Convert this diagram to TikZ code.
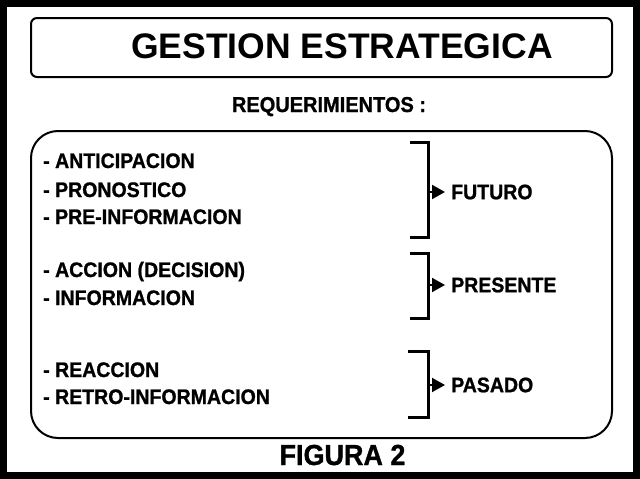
\documentclass[tikz,border=0pt]{standalone}
\usepackage{fontspec}
\setmainfont{Liberation Sans}
\newfontfamily\narrowfont{Liberation Sans}[FakeStretch=0.93,FakeBold=1]
\usetikzlibrary{positioning,arrows.meta}

\begin{document}
\begin{tikzpicture}[x=1pt,y=-1pt,
        every node/.style={inner sep=0pt,anchor=base west},
        item/.style={font=\narrowfont\bfseries\fontsize{21}{25}\selectfont},
        lbl/.style={font=\narrowfont\bfseries\fontsize{21}{25}\selectfont,anchor=west},
        box/.style={draw,line width=2pt},
        brk/.style={line width=3pt},
        tip/.style={line width=2pt,shorten >=6pt,-{Triangle[length=13pt,width=14pt]}}
        ]

        % the frame
        \useasboundingbox (0,0) rectangle (640,479);
        \draw[line width=7pt] (3.5,3.5) rectangle (636.5,475.5);

        % the title
        \draw[box,rounded corners=6pt] (31,18) rectangle (612,77);
        \node[anchor=base,font=\bfseries\fontsize{35.5}{40}\selectfont] (title) at (342,58) {GESTION ESTRATEGICA};
        \node[anchor=base,font=\narrowfont\bfseries\fontsize{21.5}{26}\selectfont] (req) at (329,112) {REQUERIMIENTOS :};

        % the box of requirements
        \draw[box,rounded corners=27pt] (31,131) rectangle (612,438);
        \node[item] (i1) at (43,168) {- ANTICIPACION};
        \node[item] (i2) at (43,197) {- PRONOSTICO};
        \node[item] (i3) at (43,224) {- PRE-INFORMACION};
        \node[item] (i4) at (43,277) {- ACCION (DECISION)};
        \node[item] (i5) at (43,305) {- INFORMACION};
        \node[item] (i6) at (43,377) {- REACCION};
        \node[item] (i7) at (43,404) {- RETRO-INFORMACION};

        % the brackets
        \coordinate (fb) at (428,192);
        \coordinate (pb) at (428,285);
        \coordinate (sb) at (428,385);
        \draw[brk] (410,142) -| (fb) |- (410,237);
        \draw[brk] (410,253) -| (pb) |- (410,318);
        \draw[brk] (408,351) -| (sb) |- (408,417);

        % the times
        \node[lbl,right=23pt of fb] (fut) {FUTURO};
        \node[lbl,right=23pt of pb] (pre) {PRESENTE};
        \node[lbl,right=23pt of sb] (pas) {PASADO};
        \draw[tip] (fb) -- (fut);
        \draw[tip] (pb) -- (pre);
        \draw[tip] (sb) -- (pas);

        % the caption
        \node[anchor=base,font=\narrowfont\bfseries\fontsize{29}{34}\selectfont] (fig) at (342.5,465) {FIGURA 2};
\end{tikzpicture}
\end{document}
